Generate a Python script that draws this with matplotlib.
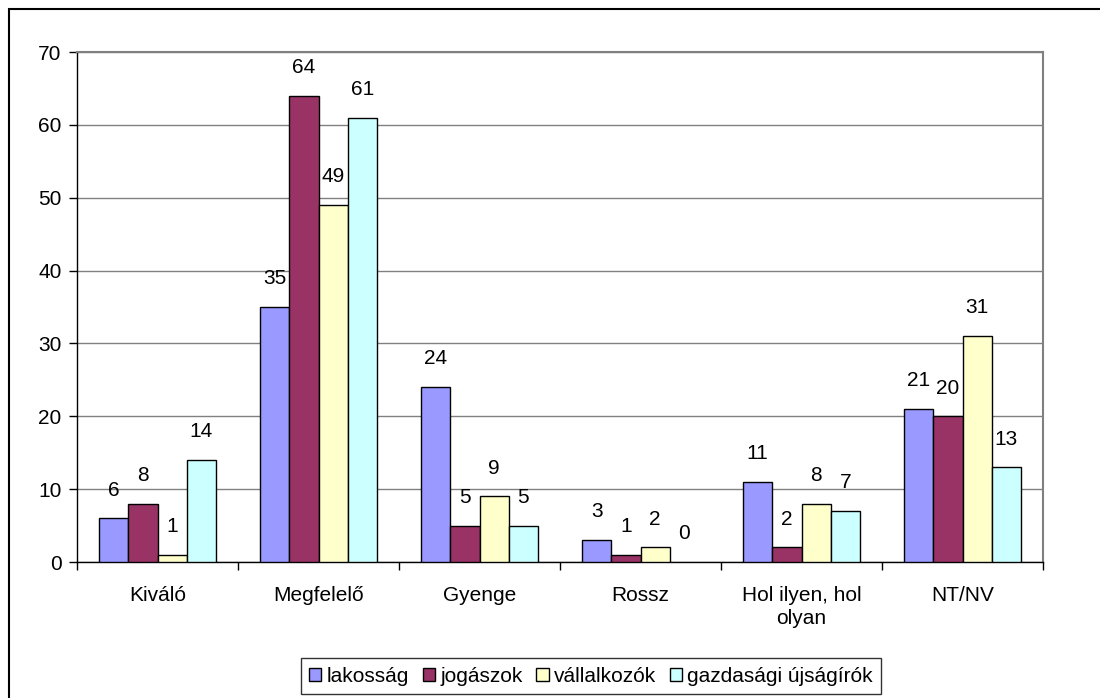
import matplotlib.pyplot as plt
import numpy as np
from matplotlib.patches import Rectangle

plt.rcParams['font.family'] = ['Liberation Sans', 'DejaVu Sans']

# Data
categories = ['Kiváló', 'Megfelelő', 'Gyenge', 'Rossz', 'Hol ilyen, hol\nolyan', 'NT/NV']
series_names = ['lakosság', 'jogászok', 'vállalkozók', 'gazdasági újságírók']
lakossag = [6, 35, 24, 3, 11, 21]
jogaszok = [8, 64, 5, 1, 2, 20]
vallalkozok = [1, 49, 9, 2, 8, 31]
ujsagirok = [14, 61, 5, 0, 7, 13]
series = [lakossag, jogaszok, vallalkozok, ujsagirok]
colors = ['#9999FF', '#993366', '#FFFFCC', '#CCFFFF']

fig = plt.figure(figsize=(11, 6.98), dpi=100)
W, H = 1100, 698
ax = fig.add_axes([77 / W, 1 - 562 / H, (1043 - 77) / W, (562 - 52) / H])

# outer chart border
fig.patches.append(Rectangle((9 / W, -0.1), 1.2, 1 - 9 / H + 0.1, transform=fig.transFigure,
                             fill=False, edgecolor='black', linewidth=1.5))

fs = 15
n = len(series)
bw = 1 / 5.5
x = np.arange(len(categories))
for i, (vals, c, name) in enumerate(zip(series, colors, series_names)):
    pos = x + (i - (n - 1) / 2) * bw
    bars = ax.bar(pos, vals, width=bw, color=c, edgecolor='black', linewidth=1.0,
                  label=name, zorder=3)
    for b, v in zip(bars, vals):
        if v == 0:
            b.set_visible(False)
        ax.annotate(str(v), (b.get_x() + b.get_width() / 2, v), xytext=(0, 13.5),
                    textcoords='offset points', ha='center', va='bottom', fontsize=fs)

ax.set_xlim(-0.5, len(categories) - 0.5)
ax.set_ylim(0, 70)
ax.set_yticks(range(0, 71, 10))
ax.yaxis.grid(True, color='#808080', linewidth=1, zorder=0)
ax.set_axisbelow(True)

ax.set_xticks(x)
ax.set_xticklabels(categories, fontsize=fs, va='top', linespacing=1.3)
ax.set_xticks(np.arange(-0.5, len(categories), 1), minor=True)
ax.tick_params(axis='x', which='major', length=0, pad=17)
ax.tick_params(axis='x', which='minor', length=6, direction='out', width=1)
ax.tick_params(axis='y', labelsize=fs, length=6, direction='out', width=1, pad=5)

for s in ['top', 'right']:
    ax.spines[s].set_color('#808080')
    ax.spines[s].set_linewidth(1.5)
for s in ['left', 'bottom']:
    ax.spines[s].set_color('black')
    ax.spines[s].set_linewidth(1)

leg = fig.legend(loc='center', bbox_to_anchor=(591 / W, 1 - 676 / H), ncol=4, fontsize=fs,
                 frameon=True, fancybox=False, edgecolor='black', handlelength=0.6,
                 handleheight=0.6, handletextpad=0.25, columnspacing=0.65,
                 borderpad=0.4, borderaxespad=0)
leg.get_frame().set_linewidth(1)

fig.savefig('out.png', dpi=100)
